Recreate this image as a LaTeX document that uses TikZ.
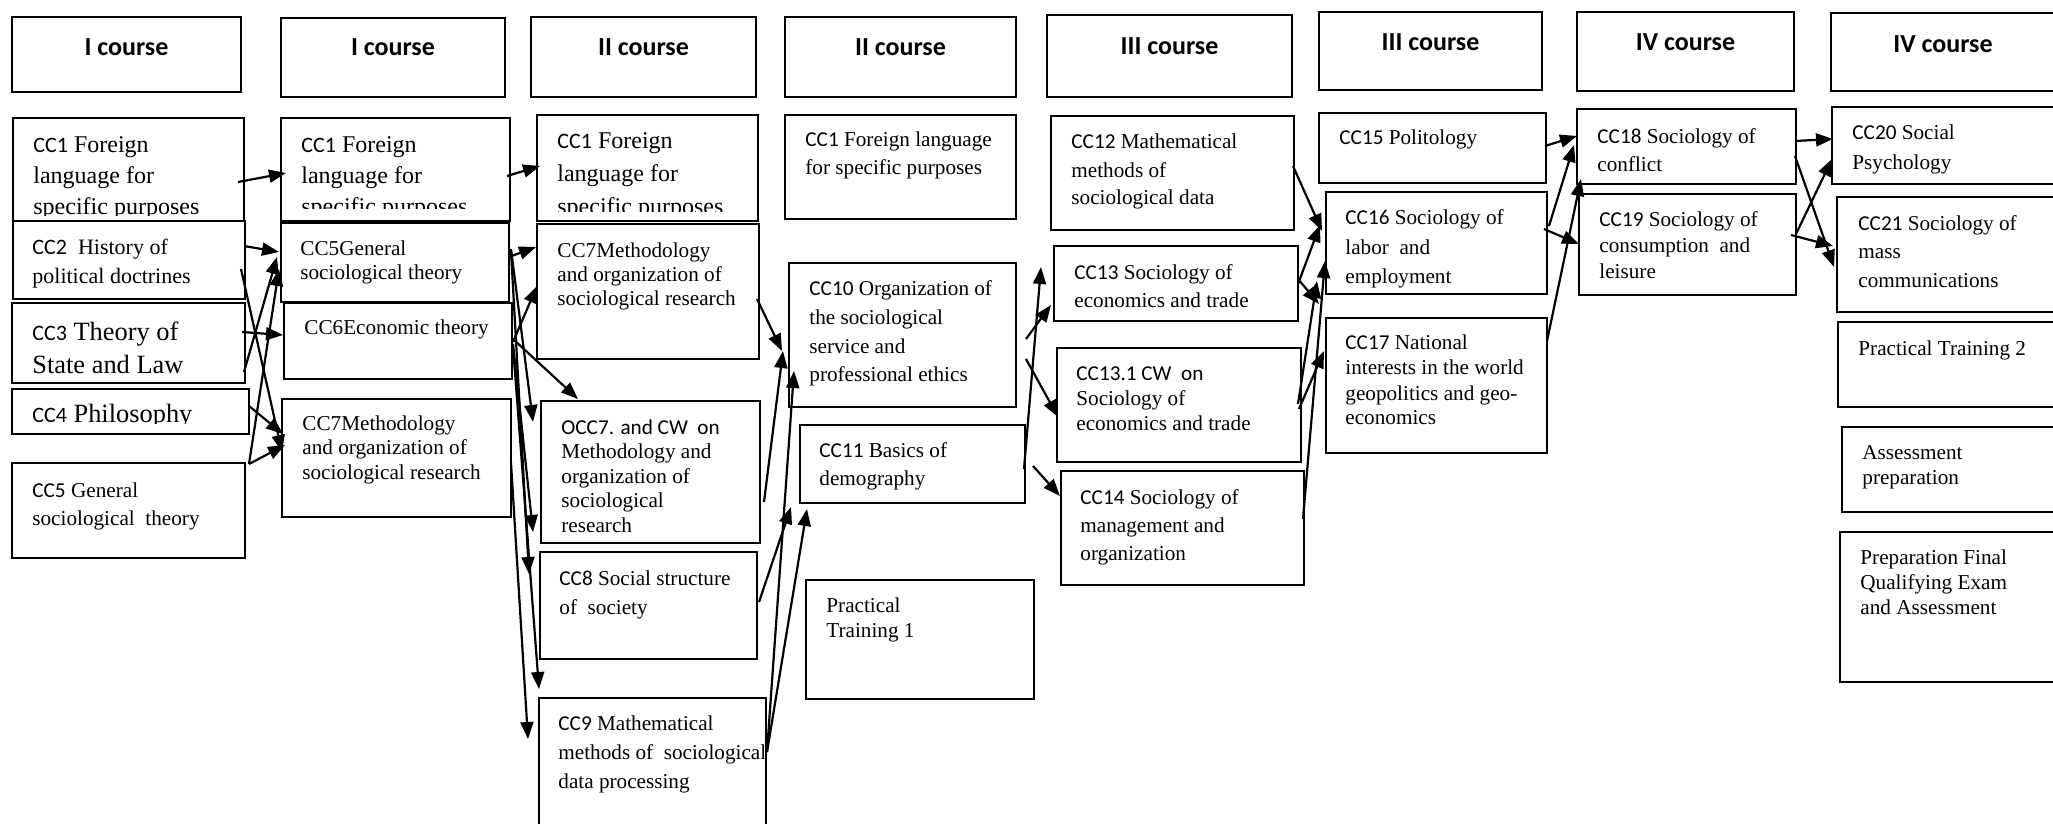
\documentclass[tikz,border=0pt]{standalone}
\usepackage{fontspec}
\setmainfont{Liberation Serif}
\newfontfamily\calib{Carlito}
\usetikzlibrary{arrows.meta,fit}
\newcommand\mlines[3]{{\fontsize{#1}{#2}\selectfont\begin{tabular}[t]{@{}l@{}}#3\end{tabular}}}
\newcommand\cc[1]{{\calib #1}}
\newcommand\ccs[1]{{\calib\fontsize{11}{13}\selectfont #1}}
\begin{document}
\begin{tikzpicture}[x=0.5pt,y=-0.5pt,
  box/.style={draw,line width=1pt,inner sep=0pt},
  txt/.style={inner sep=0pt,anchor=base west,yshift=-1.5pt},
  hd/.style={inner sep=0pt,anchor=base,yshift=-2pt,font=\calib\bfseries\fontsize{13}{15}\selectfont},
  arr/.style={line width=1.1pt,-{Triangle[length=8.5pt,width=6.5pt]}}]
\useasboundingbox (0,0) rectangle (2053,824);
\clip (0,0) rectangle (2053,824);

% ---------- headers
\node[box,fit={(12,17)(241,92)}] (h1) {};
\node[hd] (h1t) at ([shift={(0,36)}]h1.north) {I course};
\node[box,fit={(281,18)(505,97)}] (h2) {};
\node[hd] (h2t) at ([shift={(0,35)}]h2.north) {I course};
\node[box,fit={(531,17)(756,97)}] (h3) {};
\node[hd] (h3t) at ([shift={(0,36)}]h3.north) {II course};
\node[box,fit={(785,17)(1016,97)}] (h4) {};
\node[hd] (h4t) at ([shift={(0,36)}]h4.north) {II course};
\node[box,fit={(1047,15)(1292,97)}] (h5) {};
\node[hd] (h5t) at ([shift={(0,37)}]h5.north) {III course};
\node[box,fit={(1319,12)(1542,90)}] (h6) {};
\node[hd] (h6t) at ([shift={(0,36)}]h6.north) {III course};
\node[box,fit={(1577,12)(1794,91)}] (h7) {};
\node[hd] (h7t) at ([shift={(0,36)}]h7.north) {IV course};
\node[box,fit={(1831,13)(2057,91)}] (h8) {};
\node[hd] (h8t) at ([shift={(-1,37)}]h8.north) {IV course};

% ---------- column 1
\node[box,fit={(13,118)(244,221)}] (cc1a) {};
\begin{scope}\clip (13,118) rectangle (244,216);
\node[txt] (cc1at) at ([shift={(21,33)}]cc1a.north west) {\mlines{12}{15.5}{\ccs{CC1} Foreign\\language for\\specific purposes}};
\end{scope}
\node[box,fit={(13,221)(245,299)}] (cc2) {};
\node[txt] (cc2t) at ([shift={(20,32)}]cc2.north west) {\mlines{11}{14.5}{\cc{CC2}~ History of\\political doctrines}};
\node[box,fit={(12,303)(245,383)}] (cc3) {};
\begin{scope}\clip (12,303) rectangle (245,374);
\node[txt] (cc3t) at ([shift={(21,35)}]cc3.north west) {\mlines{13.2}{17}{\ccs{CC3} Theory of\\State and Law}};
\end{scope}
\node[box,fit={(12,389)(249,434)}] (cc4) {};
\begin{scope}\clip (12,389) rectangle (249,423);
\node[txt] (cc4t) at ([shift={(21,31)}]cc4.north west) {\mlines{13.2}{17}{\ccs{CC4} Philosophy}};
\end{scope}
\node[box,fit={(12,463)(245,558)}] (cc5a) {};
\node[txt] (cc5at) at ([shift={(21,32)}]cc5a.north west) {\mlines{10.6}{14}{\cc{CC5} General\\sociological~ theory}};

% ---------- column 2
\node[box,fit={(281,118)(510,221)}] (cc1b) {};
\begin{scope}\clip (281,118) rectangle (510,209);
\node[txt] (cc1bt) at ([shift={(21,33)}]cc1b.north west) {\mlines{12}{15.5}{\ccs{CC1} Foreign\\language for\\specific purposes}};
\end{scope}
\node[box,fit={(281,223)(509,302)}] (cc5g) {};
\node[txt] (cc5gt) at ([shift={(20,31)}]cc5g.north west) {\mlines{10.6}{11.6}{CC5General\\sociological theory}};
\node[box,fit={(284,303)(512,379)}] (cc6) {};
\node[txt] (cc6t) at ([shift={(21,30)}]cc6.north west) {\mlines{10.6}{12.3}{CC6Economic theory}};
\node[box,fit={(282,399)(511,517)}] (cc7b) {};
\node[txt] (cc7bt) at ([shift={(21,29)}]cc7b.north west) {\mlines{10.6}{12.3}{CC7Methodology\\and organization of\\sociological research}};

% ---------- column 3
\node[box,fit={(537,115)(758,221)}] (cc1c) {};
\begin{scope}\clip (537,115) rectangle (758,212);
\node[txt] (cc1ct) at ([shift={(21,32)}]cc1c.north west) {\mlines{12}{16.3}{\ccs{CC1} Foreign\\language for\\specific purposes}};
\end{scope}
\node[box,fit={(537,224)(759,359)}] (cc7c) {};
\node[txt] (cc7ct) at ([shift={(21,31)}]cc7c.north west) {\mlines{10.6}{12.1}{CC7Methodology\\and organization of\\sociological research}};
\node[box,fit={(541,401)(760,543)}] (occ7) {};
\node[txt] (occ7t) at ([shift={(21,31)}]occ7.north west) {\mlines{10.6}{12.3}{\cc{OCC7. and CW~ on}\\Methodology and\\organization of\\sociological\\research}};
\node[box,fit={(540,552)(757,659)}] (cc8) {};
\node[txt] (cc8t) at ([shift={(20,31)}]cc8.north west) {\mlines{10.6}{14.5}{\cc{CC8} Social structure\\of~ society}};
\node[box,fit={(539,698)(766,840)}] (cc9) {};
\node[txt] (cc9t) at ([shift={(20,30)}]cc9.north west) {\mlines{10.6}{14.5}{\cc{CC9} Mathematical\\methods of~ sociological\\data processing}};

% ---------- column 4
\node[box,fit={(785,115)(1016,219)}] (cc1d) {};
\node[txt] (cc1dt) at ([shift={(21,30)}]cc1d.north west) {\mlines{10.6}{14}{\cc{CC1} Foreign language\\for specific purposes}};
\node[box,fit={(789,263)(1016,407)}] (cc10) {};
\node[txt] (cc10t) at ([shift={(21,30)}]cc10.north west) {\mlines{10.6}{14.5}{\cc{CC10} Organization of\\the sociological\\service and\\professional ethics}};
\node[box,fit={(800,425)(1025,503)}] (cc11) {};
\node[txt] (cc11t) at ([shift={(20,30)}]cc11.north west) {\mlines{10.6}{14}{\cc{CC11} Basics of\\demography}};
\node[box,fit={(806,580)(1034,699)}] (pt1) {};
\node[txt] (pt1t) at ([shift={(21,30)}]pt1.north west) {\mlines{10.6}{12.5}{Practical\\Training 1}};

% ---------- column 5
\node[box,fit={(1051,116)(1294,230)}] (cc12) {};
\node[txt] (cc12t) at ([shift={(21,31)}]cc12.north west) {\mlines{10.6}{14}{\cc{CC12} Mathematical\\methods of\\sociological data}};
\node[box,fit={(1054,246)(1298,321)}] (cc13) {};
\node[txt] (cc13t) at ([shift={(21,31)}]cc13.north west) {\mlines{10.6}{14}{\cc{CC13} Sociology of\\economics and trade}};
\node[box,fit={(1057,348)(1301,462)}] (cc131) {};
\node[txt] (cc131t) at ([shift={(20,30)}]cc131.north west) {\mlines{10.6}{12.5}{\cc{CC13.1 CW~ on}\\Sociology of\\economics and trade}};
\node[box,fit={(1061,471)(1304,585)}] (cc14) {};
\node[txt] (cc14t) at ([shift={(20,31)}]cc14.north west) {\mlines{10.6}{14}{\cc{CC14} Sociology of\\management and\\organization}};

% ---------- column 6
\node[box,fit={(1319,113)(1546,183)}] (cc15) {};
\node[txt] (cc15t) at ([shift={(21,30)}]cc15.north west) {\mlines{10.6}{14}{\cc{CC15} Politology}};
\node[box,fit={(1326,192)(1547,294)}] (cc16) {};
\node[txt] (cc16t) at ([shift={(20,31)}]cc16.north west) {\mlines{10.6}{14.7}{\cc{CC16} Sociology of\\labor~ and\\employment}};
\node[box,fit={(1326,318)(1547,453)}] (cc17) {};
\node[txt] (cc17t) at ([shift={(20,30)}]cc17.north west) {\mlines{10.6}{12.5}{\cc{CC17} National\\interests in the world\\geopolitics and geo-\\economics}};

% ---------- column 7
\node[box,fit={(1577,109)(1796,184)}] (cc18) {};
\node[txt] (cc18t) at ([shift={(21,33)}]cc18.north west) {\mlines{10.6}{13.5}{\cc{CC18} Sociology of\\conflict}};
\node[box,fit={(1579,194)(1796,295)}] (cc19) {};
\node[txt] (cc19t) at ([shift={(21,31)}]cc19.north west) {\mlines{10.6}{12.8}{\cc{CC19} Sociology of\\consumption~ and\\leisure}};

% ---------- column 8
\node[box,fit={(1832,107)(2060,184)}] (cc20) {};
\node[txt] (cc20t) at ([shift={(21,31)}]cc20.north west) {\mlines{10.6}{15}{\cc{CC20} Social\\Psychology}};
\node[box,fit={(1837,197)(2060,312)}] (cc21) {};
\node[txt] (cc21t) at ([shift={(22,31)}]cc21.north west) {\mlines{10.6}{14.3}{\cc{CC21} Sociology of\\mass\\communications}};
\node[box,fit={(1838,322)(2060,407)}] (pt2) {};
\node[txt] (pt2t) at ([shift={(21,31)}]pt2.north west) {\mlines{10.6}{14}{Practical Training 2}};
\node[box,fit={(1842,427)(2060,512)}] (ap) {};
\node[txt] (apt) at ([shift={(21,30)}]ap.north west) {\mlines{10.6}{12.5}{Assessment\\preparation}};
\node[box,fit={(1840,532)(2060,682)}] (pf) {};
\node[txt] (pft) at ([shift={(21,30)}]pf.north west) {\mlines{10.6}{12.5}{Preparation Final\\Qualifying Exam\\and Assessment}};

% ---------- connectors col1 -> col2
\draw[arr] ([shift={(226,65)}]cc1a.north west) -- ([shift={(6,56)}]cc1b.north west);
\draw[arr] ([shift={(232,26)}]cc2.north west) -- ([shift={(-1,30)}]cc5g.north west);
\draw[arr] ([shift={(229,49)}]cc2.north west) -- ([shift={(1,54)}]cc7b.north west);
\draw[arr] ([shift={(231,30)}]cc3.north west) -- ([shift={(0,33)}]cc6.north west);
\draw[arr] ([shift={(233,70)}]cc3.north west) -- ([shift={(-3,35)}]cc5g.north west);
\draw[arr] ([shift={(238,18)}]cc4.north west) -- ([shift={(2,36)}]cc7b.north west);
\draw[arr] ([shift={(238,2)}]cc5a.north west) -- ([shift={(4,47)}]cc7b.north west);
\draw[arr] ([shift={(238,2)}]cc5a.north west) -- ([shift={(-1,47)}]cc5g.north west);

% ---------- col2 -> col3
\draw[arr] ([shift={(227,59)}]cc1b.north west) -- ([shift={(4,52)}]cc1c.north west);
\draw[arr] ([shift={(229,35)}]cc5g.north west) -- ([shift={(0,24)}]cc7c.north west);
\draw[arr] ([shift={(230,40)}]cc6.north west) -- ([shift={(1,63)}]cc7c.north west);
\draw[arr] ([shift={(230,37)}]cc6.north west) -- ([shift={(38,-1)}]occ7.north west);
\draw[arr] ([shift={(231,27)}]cc5g.north west) -- ([shift={(-7,22)}]occ7.north west);
\draw[arr] ([shift={(230,42)}]cc6.north west) -- ([shift={(-7,132)}]occ7.north west);
\draw[arr] ([shift={(231,29)}]cc5g.north west) -- ([shift={(-10,23)}]cc8.north west);
\draw[arr] ([shift={(230,44)}]cc6.north west) -- ([shift={(1,-8)}]cc9.north west);
\draw[arr] ([shift={(230,65)}]cc7b.north west) -- ([shift={(-10,42)}]cc9.north west);

% ---------- col3 -> col4
\draw[arr] ([shift={(221,76)}]cc7c.north west) -- ([shift={(-6,89)}]cc10.north west);
\draw[arr] ([shift={(224,102)}]occ7.north west) -- ([shift={(-5,89)}]cc10.north west);
\draw[arr] ([shift={(220,51)}]cc8.north west) -- ([shift={(-8,83)}]cc11.north west);
\draw[arr] ([shift={(229,55)}]cc9.north west) -- ([shift={(6,109)}]cc10.north west);
\draw[arr] ([shift={(229,55)}]cc9.north west) -- ([shift={(8,85)}]cc11.north west);

% ---------- col4 -> col5
\draw[arr] ([shift={(225,45)}]cc11.north west) -- ([shift={(-12,22)}]cc13.north west);
\draw[arr] ([shift={(238,77)}]cc10.north west) -- ([shift={(-2,60)}]cc13.north west);
\draw[arr] ([shift={(238,97)}]cc10.north west) -- ([shift={(2,70)}]cc131.north west);
\draw[arr] ([shift={(234,42)}]cc11.north west) -- ([shift={(0,26)}]cc14.north west);

% ---------- col5 -> col6
\draw[arr] ([shift={(243,51)}]cc12.north west) -- ([shift={(-3,40)}]cc16.north west);
\draw[arr] ([shift={(245,39)}]cc13.north west) -- ([shift={(-5,34)}]cc16.north west);
\draw[arr] ([shift={(245,34)}]cc13.north west) -- ([shift={(-6,-13)}]cc17.north west);
\draw[arr] ([shift={(242,57)}]cc131.north west) -- ([shift={(-8,90)}]cc16.north west);
\draw[arr] ([shift={(243,62)}]cc131.north west) -- ([shift={(-1,34)}]cc17.north west);
\draw[arr] ([shift={(243,49)}]cc14.north west) -- ([shift={(0,70)}]cc16.north west);

% ---------- col6 -> col7
\draw[arr] ([shift={(227,34)}]cc15.north west) -- ([shift={(1,28)}]cc18.north west);
\draw[arr] ([shift={(224,35)}]cc16.north west) -- ([shift={(-2,37)}]cc18.north west);
\draw[arr] ([shift={(219,38)}]cc16.north west) -- ([shift={(1,51)}]cc19.north west);
\draw[arr] ([shift={(222,24)}]cc17.north west) -- ([shift={(5,71)}]cc18.north west);

% ---------- col7 -> col8
\draw[arr] ([shift={(219,33)}]cc18.north west) -- ([shift={(2,33)}]cc20.north west);
\draw[arr] ([shift={(219,48)}]cc18.north west) -- ([shift={(-2,71)}]cc21.north west);
\draw[arr] ([shift={(218,41)}]cc19.north west) -- ([shift={(1,53)}]cc20.north west);
\draw[arr] ([shift={(213,42)}]cc19.north west) -- ([shift={(-3,50)}]cc21.north west);
\end{tikzpicture}
\end{document}
